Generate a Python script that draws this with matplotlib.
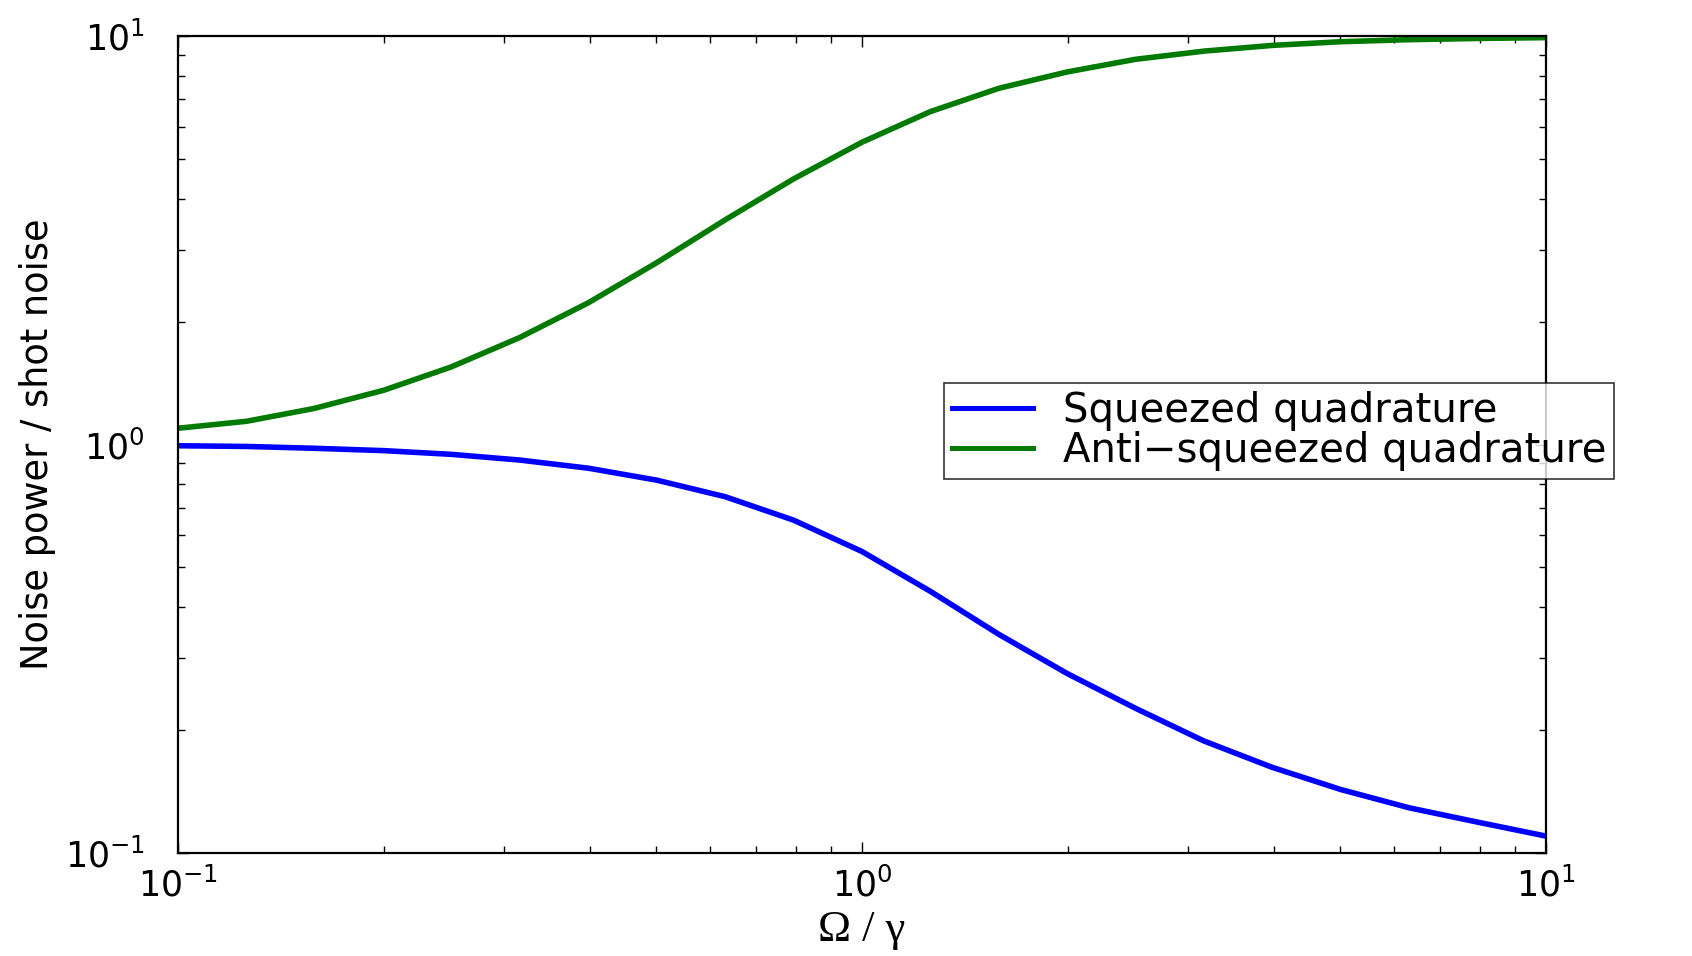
import matplotlib
matplotlib.use("Agg")
import matplotlib.pyplot as plt
from matplotlib.ticker import NullFormatter

# Values (Omega/gamma on a log grid)
omega_over_gamma = [0.1, 0.126, 0.158, 0.2, 0.251, 0.316, 0.398, 0.501, 0.631, 0.794,
                    1.0, 1.259, 1.585, 1.995, 2.512, 3.162, 3.981, 5.012, 6.31, 7.943, 10.0]
squeezed = [0.993, 0.989, 0.979, 0.966, 0.946, 0.916, 0.875, 0.818, 0.745, 0.653,
            0.547, 0.437, 0.343, 0.275, 0.226, 0.188, 0.162, 0.143, 0.129, 0.119, 0.110]
anti_squeezed = [1.096, 1.140, 1.225, 1.358, 1.549, 1.828, 2.223, 2.786, 3.548, 4.467,
                 5.495, 6.531, 7.447, 8.166, 8.770, 9.183, 9.484, 9.683, 9.795, 9.863, 9.908]
series_labels = ["Squeezed quadrature", "Anti\u2212squeezed quadrature"]

plt.rcParams['font.family'] = ['DejaVu Sans']
plt.rcParams['mathtext.fontset'] = 'dejavusans'

fig = plt.figure(figsize=(16.92, 9.56), dpi=100)
ax = fig.add_axes([178/1692, 1-853/956, (1546-178)/1692, (853-36)/956])

ax.plot(omega_over_gamma, squeezed, color='#0000ff', lw=4.0, label=series_labels[0],
        solid_joinstyle='round')
ax.plot(omega_over_gamma, anti_squeezed, color='#007a00', lw=4.0, label=series_labels[1],
        solid_joinstyle='round')

ax.set_xscale('log')
ax.set_yscale('log')
ax.set_xlim(0.1, 10)
ax.set_ylim(0.1, 10)

for s in ax.spines.values():
    s.set_linewidth(1.6)

ax.tick_params(which='both', direction='in', top=True, right=True, width=1.0)
ax.tick_params(which='major', length=8, labelsize=25)
ax.tick_params(which='minor', length=5)
ax.tick_params(axis='y', which='major', pad=24)
ax.tick_params(axis='x', which='major', pad=10)
ax.xaxis.set_minor_formatter(NullFormatter())
ax.yaxis.set_minor_formatter(NullFormatter())

ax.set_ylabel("Noise power / shot noise", fontsize=26.5)
ax.yaxis.set_label_coords(-0.089, 0.5)
ax.set_xlabel("\u03a9 / \u03b3", fontsize=32, family='Liberation Serif')
ax.xaxis.set_label_coords(0.5, -0.070)

leg = ax.legend(loc='upper left', bbox_to_anchor=((944-178)/1368, 1-(383-36)/817),
                borderaxespad=0, fontsize=29, frameon=True, fancybox=False,
                handlelength=2.0, handletextpad=0.75, borderpad=0.2,
                labelspacing=0.0)
leg.get_frame().set_edgecolor('black')
leg.get_frame().set_linewidth(1.2)
for h in leg.get_lines():
    h.set_linewidth(3.6)

fig.savefig("out.png", dpi=100)
